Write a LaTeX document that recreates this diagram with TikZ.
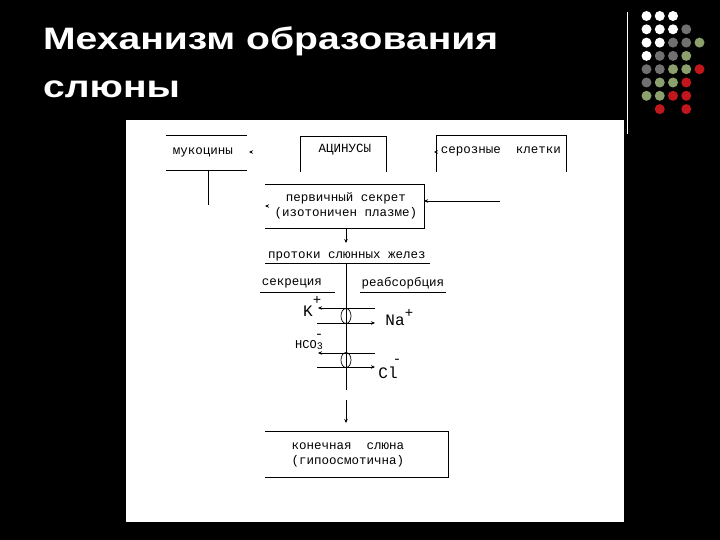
\documentclass[tikz,border=0pt]{standalone}
\usepackage{fontspec}
\setmainfont{Liberation Sans}
\newfontfamily\monof{Liberation Mono}
\usetikzlibrary{arrows.meta}
\definecolor{dgray}{RGB}{112,112,112}
\definecolor{dolive}{RGB}{140,160,110}
\definecolor{dred}{RGB}{192,22,28}
\newcommand{\wideT}[1]{\scalebox{1.26}[1]{#1}}
\begin{document}
\begin{tikzpicture}[x=1pt,y=-1pt,
  lbl/.style={font=\monof\fontsize{12.5}{14.5}\selectfont, inner sep=0pt, text=black},
  ion/.style={font=\monof\fontsize{16}{18}\selectfont, inner sep=0pt, text=black},
  sgn/.style={font=\monof\fontsize{14}{15}\selectfont, inner sep=0pt, text=black},
  ln/.style={line width=0.8pt, black},
  arr/.style={ln, -{Stealth[length=4pt,width=3.5pt]}},
  dotw/.style={circle, fill=white, minimum size=10pt, inner sep=0pt},
  dotg/.style={circle, fill=dgray, minimum size=10pt, inner sep=0pt},
  doto/.style={circle, fill=dolive, minimum size=10pt, inner sep=0pt},
  dotr/.style={circle, fill=dred, minimum size=10pt, inner sep=0pt},
  dotn/.style={circle, draw=none, fill=none, minimum size=10pt, inner sep=0pt},
  ttl/.style={anchor=base west, text=white, font=\bfseries\fontsize{31}{36}\selectfont, inner sep=0pt}]
\fill[black] (0,0) rectangle (720,540);
\useasboundingbox (0,0) rectangle (720,540);
\fill[white] (126,120) rectangle (624,522);
\draw[white, line width=1.5pt] (627.5,12) -- (627.5,134);
% title
\node[ttl] (t1) at (43,50) {\wideT{Механизм образования}};
\node[ttl] (t2) at (43,98) {\wideT{слюны}};
% dots
\foreach \r/\row in {1/{w,w,w,n,n}, 2/{w,w,w,g,n}, 3/{w,w,g,g,o}, 4/{w,g,g,o,n}, 5/{g,g,o,o,r}, 6/{g,o,o,r,n}, 7/{o,o,r,r,n}, 8/{n,r,n,r,n}} {
  \foreach \c [count=\k] in \row {
      \node[dot\c] (d\r-\k) at ({646.5+13.25*(\k-1)}, {16+13.3*(\r-1)}) {};
  }
}
% top row
\node[lbl] (muc) at (203,152) {мукоцины};
\draw[ln] (166,135) -- (247,135);
\draw[ln] (166,170) -- (247,170);
\coordinate (muct) at (252,152);
\coordinate (much) at (249,152);
\draw[arr] (muct) -- (much);
\coordinate (mucb) at (208,170);
\coordinate (muce) at (208,205);
\draw[ln] (mucb) -- (muce);

\node[lbl] (acin) at (345,150) {АЦИНУСЫ};
\draw[ln] (300,172) -- (300,136) -- (386,136) -- (386,172);

\node[lbl] (ser) at (501,151) {серозные~~клетки};
\draw[ln] (436,172) -- (436,135) -- (566,135) -- (566,172);
\coordinate (sert) at (437,152);
\coordinate (serh) at (434,152);
\draw[arr] (sert) -- (serh);

% primary secretion
\node[lbl, align=center] (prim) at (346,206) {первичный секрет\\(изотоничен плазме)};
\draw[ln] (265,184) -- (424,184) -- (424,228) -- (265,228);
\coordinate (primt) at (268,206);
\coordinate (primh) at (265,206);
\draw[arr] (primt) -- (primh);
\coordinate (inr) at (500,201);
\coordinate (inl) at (424,201);
\draw[arr] (inr) -- (inl);

% ducts
\node[lbl] (duct) at (347,256) {протоки слюнных желез};
\draw[ln] (265,263) -- (430,263);
\draw[arr] (346,228) -- (346,243);

\node[lbl] (secr) at (292,283) {секреция};
\draw[ln] (260,292) -- (335,292);
\node[lbl] (reab) at (403,283) {реабсорбция};
\draw[ln] (360,292) -- (446,292);

\coordinate (vtop) at (346,263);
\coordinate (vbot) at (346,390);
\draw[ln] (vtop) -- (vbot);

% ions
\node[ion] (K) at (308,311) {K};
\node[sgn] (Kp) at (317,300) {+};
\draw[arr] (375,308) -- (318,308);
\draw[ln, line width=0.7pt] (346,316) ellipse [x radius=5, y radius=7.5];
\draw[arr] (317,323) -- (375,323);
\node[ion] (Na) at (395,320) {Na};
\node[sgn] (Nap) at (409,313) {+};

\node[ion, font=\monof\fontsize{12}{14}\selectfont] (HCO) at (309,345) {HCO\raisebox{-1pt}{\fontsize{10}{12}\selectfont 3}};
\node[sgn] (HCOm) at (319,336) {-};
\draw[arr] (375,353) -- (318,353);
\draw[ln, line width=0.7pt] (346,360) ellipse [x radius=5, y radius=7.5];
\draw[arr] (317,367) -- (375,367);
\node[ion] (Cl) at (388,373) {Cl};
\node[sgn] (Clm) at (397,361) {-};

% final
\coordinate (atop) at (346,400);
\node[lbl, align=center] (fin) at (348,455) {конечная~~слюна\\(гипоосмотична)};
\draw[ln] (265,431) -- (448,431) -- (448,477) -- (265,477);
\coordinate (ahead) at (346,423);
\draw[arr] (atop) -- (ahead);
\end{tikzpicture}
\end{document}
